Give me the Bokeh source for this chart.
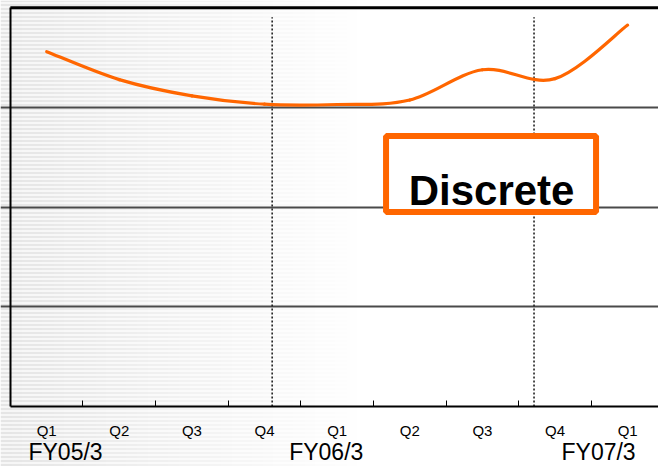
import numpy as np
from bokeh.plotting import figure
from bokeh.models import FixedTicker, LinearAxis, Range1d
from bokeh.embed import file_html
from bokeh.resources import INLINE
from bokeh.core.properties import value

# ---------------- data ----------------
quarter_labels = ["Q1", "Q2", "Q3", "Q4", "Q1", "Q2", "Q3", "Q4", "Q1"]
quarter_pos = [0.5, 1.5, 2.5, 3.5, 4.5, 5.5, 6.5, 7.5, 8.5]
quarter_bounds = [1, 2, 3, 4, 5, 6, 7, 8]
series = [3.565, 3.284, 3.121, 3.037, 3.034, 3.079, 3.383, 3.294, 3.832]
fy_labels = ["FY05/3", "FY06/3", "FY07/3"]
fy_pos = [0.76, 4.35, 8.1]
grid_values = [1, 2, 3]
divider_x = [3.605, 7.211]
divider_top = 3.91
badge_text = "Discrete"

ORANGE = "#FF6600"

# ---------------- figure ----------------
W, H = 658, 466
X0, X1 = -0.136, 8.925
Y0, Y1 = -0.6025, 4.079
TOP = 4.005

p = figure(width=W, height=H, x_range=Range1d(X0, X1), y_range=Range1d(Y0, Y1),
           output_backend="svg", toolbar_location=None,
           min_border=0, min_border_left=0, min_border_right=0,
           min_border_top=0, min_border_bottom=0)
p.outline_line_color = None
p.background_fill_color = "white"
p.border_fill_color = "white"

# striped fading background (decoration)
ref_x = np.arange(W) * 666.0 / W
rows = np.arange(H)
dark = 34.0 * np.clip(1 - ref_x / 360.0, 0, 1)
stripe = 0.5 + 0.5 * np.cos(2 * np.pi * rows / 4.0)
val = (255 - np.outer(stripe, dark))[::-1]
img = np.empty((H, W), dtype=np.uint32)
view = img.view(dtype=np.uint8).reshape((H, W, 4))
v8 = np.clip(val, 0, 255).astype(np.uint8)
view[..., 0] = v8
view[..., 1] = v8
view[..., 2] = v8
view[..., 3] = 255
p.image_rgba(image=[img], x=X0, y=Y0, dw=X1 - X0, dh=Y1 - Y0, level="image")

# grid
p.xgrid.visible = False
p.ygrid[0].ticker = FixedTicker(ticks=grid_values)
p.ygrid.grid_line_color = "#4a4a4a"
p.ygrid.grid_line_width = 2

# axes
xax = p.xaxis[0]
xax.fixed_location = 0
xax.bounds = (0, X1)
xax.ticker = FixedTicker(ticks=quarter_pos, minor_ticks=quarter_bounds)
xax.major_label_overrides = {k: v for k, v in zip(quarter_pos, quarter_labels)}
xax.major_tick_line_color = None
xax.major_tick_in = 0
xax.major_tick_out = 0
xax.minor_tick_in = 6
xax.minor_tick_out = 0
xax.minor_tick_line_color = "black"
xax.minor_tick_line_width = 1
xax.axis_line_color = "black"
xax.axis_line_width = 2
xax.major_label_text_font = "Liberation Sans"
xax.major_label_text_font_size = "15px"
xax.major_label_text_color = "black"
xax.major_label_standoff = 15

fyax = LinearAxis(fixed_location=0, ticker=FixedTicker(ticks=fy_pos))
fyax.major_label_overrides = {k: v for k, v in zip(fy_pos, fy_labels)}
fyax.axis_line_color = None
fyax.major_tick_line_color = None
fyax.minor_tick_line_color = None
fyax.major_tick_in = 0
fyax.major_tick_out = 0
fyax.major_label_text_font = "Liberation Sans"
fyax.major_label_text_font_size = "23px"
fyax.major_label_text_color = "black"
fyax.major_label_standoff = 32
p.add_layout(fyax, "below")

yax = p.yaxis[0]
yax.fixed_location = 0
yax.bounds = (0, TOP)
yax.ticker = FixedTicker(ticks=[])
yax.major_tick_line_color = None
yax.minor_tick_line_color = None
yax.major_label_text_font_size = "0px"
yax.axis_line_color = "black"
yax.axis_line_width = 2

# top border of plot area
p.segment(x0=[0], y0=[TOP], x1=[X1], y1=[TOP], line_color="black", line_width=3)

# dotted dividers
p.segment(x0=divider_x, y0=[0] * len(divider_x), x1=divider_x, y1=[divider_top] * len(divider_x),
          line_color="#222222", line_width=1.6, line_dash="2 2")

# smoothed line drawn as bezier segments through the data points
xs = np.array(quarter_pos, dtype=float)
ys = np.array(series, dtype=float)
xp = np.concatenate([[xs[0]], xs, [xs[-1]]])
yp = np.concatenate([[ys[0]], ys, [ys[-1]]])
cx0 = xp[1:-2] + (xp[2:-1] - xp[:-3]) / 6
cy0 = yp[1:-2] + (yp[2:-1] - yp[:-3]) / 6
cx1 = xp[2:-1] - (xp[3:] - xp[1:-2]) / 6
cy1 = yp[2:-1] - (yp[3:] - yp[1:-2]) / 6
p.bezier(x0=xs[:-1], y0=ys[:-1], x1=xs[1:], y1=ys[1:],
         cx0=cx0, cy0=cy0, cx1=cx1, cy1=cy1,
         line_color=ORANGE, line_width=3.2, line_cap="round")

# badge
p.rect(x=[6.619], y=[2.336], width=210, height=76, width_units="screen", height_units="screen",
       fill_color="white", line_color=ORANGE, line_width=6)
p.text(x=[6.626], y=[2.173], text=[badge_text], text_align="center", text_baseline="alphabetic",
       text_font=value("Liberation Sans"), text_font_style="bold", text_font_size="42px",
       text_color="black")

open("out.html", "w").write(file_html(p, INLINE))
